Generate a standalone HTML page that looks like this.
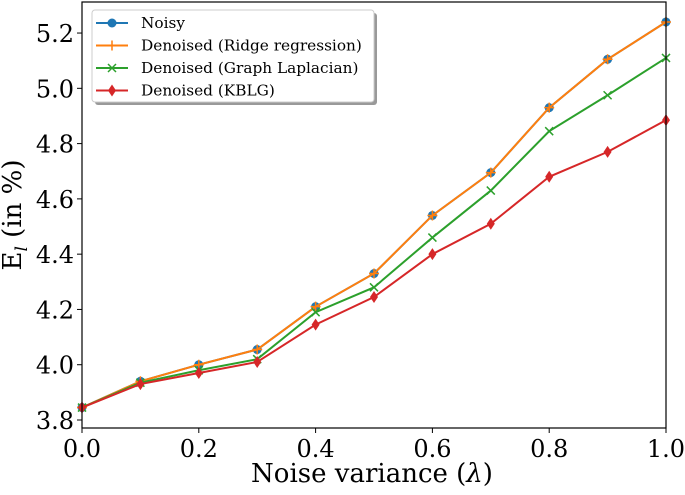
<!DOCTYPE html>
<html><head><meta charset="utf-8"><style>
body{margin:0;background:#fff;}
svg text{font-family:"DejaVu Serif","Liberation Serif",serif;fill:#000;}
</style></head><body>
<svg id="chart" width="685" height="490" xmlns="http://www.w3.org/2000/svg">
<g id="grid"></g>
<g id="series"></g>
<g id="axes"></g>
<g id="legend"></g>
</svg>
<script>
const xValues=[0,0.1,0.2,0.3,0.4,0.5,0.6,0.7,0.8,0.9,1.0];
const noisy=[3.845,3.94,4.00,4.055,4.21,4.33,4.54,4.695,4.93,5.105,5.24];
const ridge=[3.845,3.94,4.00,4.055,4.21,4.33,4.54,4.695,4.93,5.105,5.24];
const graphLap=[3.845,3.935,3.98,4.02,4.19,4.28,4.46,4.63,4.845,4.975,5.11];
const kblg=[3.845,3.93,3.97,4.01,4.145,4.245,4.40,4.51,4.68,4.77,4.885];
const xTicks=[0,0.2,0.4,0.6,0.8,1.0];
const yTicks=[3.8,4.0,4.2,4.4,4.6,4.8,5.0,5.2];
const seriesNames=["Noisy","Denoised (Ridge regression)","Denoised (Graph Laplacian)","Denoised (KBLG)"];

const NS="http://www.w3.org/2000/svg";
const L=82,R=666,T=2,B=428;
const sx=v=>L+(v-0)/(1-0)*(R-L);
const sy=v=>420-(v-3.8)*276.4;
function mk(tag,attrs,parent){const e=document.createElementNS(NS,tag);for(const k in attrs)e.setAttribute(k,attrs[k]);parent.appendChild(e);return e;}
const axes=document.getElementById('axes'),ser=document.getElementById('series'),leg=document.getElementById('legend');
const frame=mk('rect',{x:L,y:T,width:R-L,height:B-T,fill:'none',stroke:'#000','stroke-width':1.2},axes);

xTicks.forEach(t=>{const x=sx(t);mk('line',{x1:x,x2:x,y1:B,y2:B+5,stroke:'#000'},axes);
 const tx=mk('text',{x:x,y:B+29,'text-anchor':'middle','font-size':24},axes);tx.textContent=t.toFixed(1);
 });
yTicks.forEach(t=>{const y=sy(t);mk('line',{x1:L-5,x2:L,y1:y,y2:y,stroke:'#000'},axes);
 const tx=mk('text',{x:L-8,y:y+9,'text-anchor':'end','font-size':24},axes);tx.textContent=t.toFixed(1);
 });
const xt=mk('text',{x:(L+R)/2-2,y:482,'text-anchor':'middle','font-size':26},axes);
xt.innerHTML='Noise variance (<tspan font-style="italic">λ</tspan>)';

const yt=mk('text',{x:0,y:0,'text-anchor':'middle','font-size':26,transform:'translate(21,215) rotate(-90)'},axes);
yt.innerHTML='E<tspan font-size="17" dy="6" font-style="italic">l</tspan><tspan dy="-6"> (in %)</tspan>';


function marker(kind,x,y,c,p){
 if(kind==='o')mk('circle',{cx:x,cy:y,r:4.5,fill:c},p);
 else if(kind==='+'){mk('path',{d:`M${x-5} ${y}H${x+5}M${x} ${y-5}V${y+5}`,stroke:c,'stroke-width':1.5},p);}
 else if(kind==='x'){mk('path',{d:`M${x-4} ${y-4}L${x+4} ${y+4}M${x-4} ${y+4}L${x+4} ${y-4}`,stroke:c,'stroke-width':1.5},p);}
 else mk('path',{d:`M${x} ${y-6}L${x+4} ${y}L${x} ${y+6}L${x-4} ${y}Z`,fill:c},p);
}
const allSeries=[noisy,ridge,graphLap,kblg];
const colors=['#1f77b4','#ff7f0e','#2ca02c','#d62728'];
const marks=['o','+','x','d'];
[0,1,2,3].forEach(i=>{
 const g=mk('g',{},ser);
 
 
 const pts=allSeries[i].map((v,j)=>sx(xValues[j])+','+sy(v)).join(' ');
 mk('polyline',{points:pts,fill:'none',stroke:colors[i],'stroke-width':2},g);
 allSeries[i].forEach((v,j)=>marker(marks[i],sx(xValues[j]),sy(v),colors[i],g));
});
mk('rect',{x:95,y:13,width:282,height:92,rx:3,fill:'#555',opacity:0.6},leg);
mk('rect',{x:92,y:10,width:282,height:92,rx:3,fill:'#fff',stroke:'#ccc'},leg);
seriesNames.forEach((n,i)=>{const y=23+i*22.5;
 const g=mk('g',{},leg);
 
 mk('line',{x1:96,x2:128,y1:y,y2:y,stroke:colors[i],'stroke-width':2},g);
 marker(marks[i],112,y,colors[i],g);
 const t=mk('text',{x:141,y:y+5,'font-size':15.3,style:'font-family:"DejaVu Serif",serif'},g);t.textContent=n;});
</script>
</body></html>
